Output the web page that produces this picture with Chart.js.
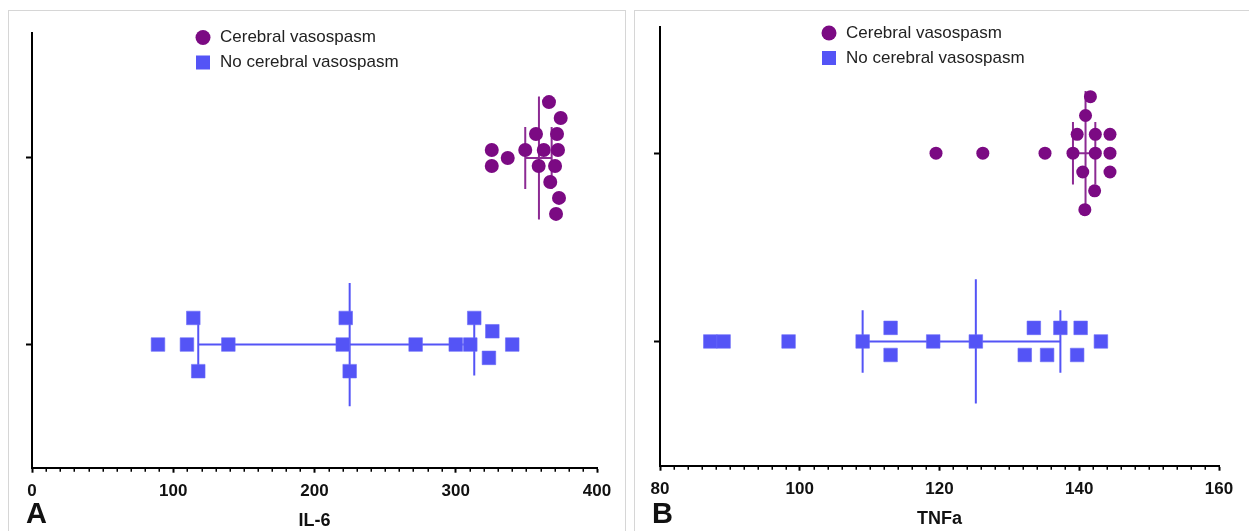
<!DOCTYPE html>
<html>
<head>
<meta charset="utf-8">
<script src="https://cdn.jsdelivr.net/npm/chart.js@4.4.1/dist/chart.umd.min.js"></script>
<style>
  body { margin: 0; background: #fff; width: 1249px; height: 531px; overflow: hidden; position: relative; }
  .panel { position: absolute; top: 10px; height: 540px; border: 1px solid #d6d6d6; box-sizing: border-box; }
  #panelA { left: 8px; width: 618px; }
  #panelB { left: 634px; width: 622px; }
  .panel canvas { display: block; }
</style>
</head>
<body>
<div class="panel" id="panelA"><canvas id="chartA" width="616" height="538"></canvas></div>
<div class="panel" id="panelB"><canvas id="chartB" width="620" height="538"></canvas></div>
<script>
// groups, top one first
const groups = ["Cerebral vasospasm", "No cerebral vasospasm"];
const groupY = [2, 1];

// IL-6 values, with the swarm lane of each dot
const il6Cv = [325.5, 325.5, 336.8, 349.2, 356.8, 362.3, 358.7, 366.9, 371.7, 372.4, 370.3, 366.0, 374.3, 373.1, 371.0];
const il6CvLane = [1, -1, 0, 1, 3, 1, -1, -3, 3, 1, -1, 7, 5, -5, -7];
const il6No = [89.2, 109.7, 114.2, 117.7, 139.0, 220.0, 222.1, 224.9, 271.6, 300.0, 310.3, 313.1, 325.9, 323.5, 340.0];
const il6NoLane = [0, 0, 2, -2, 0, 0, 2, -2, 0, 0, 0, 2, 1, -1, 0];
// median and interquartile range, [cerebral, no cerebral]
const il6Median = [358.9, 224.9];
const il6Q1 = [349.2, 117.7];
const il6Q3 = [367.9, 313.1];
const il6Ticks = [0, 100, 200, 300, 400];

// TNFa values
const tnfCv = [119.5, 126.2, 135.1, 139.1, 139.7, 142.3, 144.4, 142.3, 144.4, 140.5, 144.4, 140.9, 141.6, 142.2, 140.8];
const tnfCvLane = [0, 0, 0, 0, 1, 1, 1, 0, 0, -1, -1, 2, 3, -2, -3];
const tnfNo = [87.2, 89.1, 98.4, 109.0, 113.0, 113.0, 119.1, 125.2, 133.5, 132.2, 135.4, 137.3, 140.2, 139.7, 143.1];
const tnfNoLane = [0, 0, 0, 0, 1, -1, 0, 0, 1, -1, -1, 1, 1, -1, 0];
const tnfMedian = [140.9, 125.2];
const tnfQ1 = [139.1, 109.0];
const tnfQ3 = [142.3, 137.3];
const tnfTicks = [80, 100, 120, 140, 160];

const PURPLE = "#7b0a83";
const PURPLE_LINE = "#8c2a93";
const BLUE = "#5454f6";
const FONT = "'Liberation Sans', Arial, Helvetica, sans-serif";

// little extras: minor ticks, stacked legend, panel letter
const extras = {
  id: "extras",
  afterDraw(chart, args, opts) {
    const ctx = chart.ctx;
    const x = chart.scales.x;
    ctx.save();
    ctx.strokeStyle = "#000";
    ctx.lineWidth = 1.5;
    for (let v = x.min; v <= x.max + 1e-9; v += opts.minorStep) {
      if (opts.ticks.includes(Math.round(v * 100) / 100)) continue;
      const px = Math.round(x.getPixelForValue(v)) + 0.25;
      ctx.beginPath();
      ctx.moveTo(px, x.top);
      ctx.lineTo(px, x.top + 4);
      ctx.stroke();
    }

    // legend
    ctx.textBaseline = "middle";
    ctx.textAlign = "left";
    ctx.font = "17px " + FONT;
    const ly = opts.legendY;
    ctx.fillStyle = PURPLE;
    ctx.beginPath();
    ctx.arc(194, ly, 7.5, 0, Math.PI * 2);
    ctx.fill();
    ctx.fillStyle = "#222";
    ctx.fillText(groups[0], 211, ly);
    ctx.fillStyle = BLUE;
    ctx.fillRect(187, ly + 25 - 7, 14, 14);
    ctx.fillStyle = "#222";
    ctx.fillText(groups[1], 211, ly + 25);

    ctx.font = "bold 29px " + FONT;
    ctx.textBaseline = "alphabetic";
    ctx.fillStyle = "#111";
    ctx.fillText(opts.letter, 17, 512);
    ctx.restore();
  }
};

function swarm(values, lanes, base, step) {
  return values.map((v, i) => ({ x: v, y: base + lanes[i] * step }));
}

function seg(x1, y1, x2, y2, color) {
  return {
    type: "scatter",
    data: [{ x: x1, y: y1 }, { x: x2, y: y2 }],
    showLine: true,
    borderColor: color,
    borderWidth: 2,
    pointRadius: 0,
  };
}

function bars(med, q1, q3, cy, color) {
  return [
    seg(q1, cy, q3, cy, color),
    seg(med, cy - 0.33, med, cy + 0.33, color),
    seg(q1, cy - 0.166, q1, cy + 0.166, color),
    seg(q3, cy - 0.166, q3, cy + 0.166, color),
  ];
}

function makeChart(id, p) {
  const datasets = [
    {
      type: "scatter",
      label: groups[0],
      data: swarm(p.cv, p.cvLane, groupY[0], p.cvStep),
      pointStyle: "circle",
      pointRadius: p.dotR,
      backgroundColor: PURPLE,
      borderWidth: 0,
    },
    {
      type: "scatter",
      label: groups[1],
      data: swarm(p.no, p.noLane, groupY[1], p.noStep),
      pointStyle: "rect",
      pointRadius: 9.6,
      backgroundColor: BLUE,
      borderColor: "#6a6af8",
      borderWidth: 0.6,
    },
    ...bars(p.median[0], p.q1[0], p.q3[0], groupY[0], PURPLE_LINE),
    ...bars(p.median[1], p.q1[1], p.q3[1], groupY[1], BLUE),
  ];

  return new Chart(document.getElementById(id), {
    type: "scatter",
    data: { datasets },
    options: {
      responsive: false,
      animation: false,
      events: [],
      layout: { padding: p.padding },
      plugins: {
        legend: { display: false },
        tooltip: { enabled: false },
        extras: { minorStep: p.minorStep, ticks: p.ticks, legendY: p.legendY, letter: p.letter },
      },
      scales: {
        x: {
          type: "linear",
          min: p.ticks[0],
          max: p.ticks[p.ticks.length - 1],
          afterBuildTicks: (s) => { s.ticks = p.ticks.map(v => ({ value: v })); },
          ticks: { color: "#111", font: { family: FONT, size: 17, weight: "bold" }, padding: 8.5, maxRotation: 0, autoSkip: false },
          grid: { drawOnChartArea: false, tickLength: 5, tickWidth: 2, tickColor: "#000" },
          border: { color: "#000", width: 2 },
          title: { display: true, text: p.title, color: "#111", font: { family: FONT, size: 18, weight: "bold" }, padding: { top: 0, bottom: 0 } },
        },
        y: {
          type: "linear",
          min: 0.34,
          max: 2.67,
          afterBuildTicks: (s) => { s.ticks = groupY.map(v => ({ value: v })); },
          ticks: { display: false },
          grid: { drawOnChartArea: false, tickLength: 6, tickWidth: 2, tickColor: "#000" },
          border: { color: "#000", width: 2 },
        },
      },
    },
    plugins: [extras],
  });
}

makeChart("chartA", {
  cv: il6Cv, cvLane: il6CvLane, cvStep: 0.0428, dotR: 7,
  no: il6No, noLane: il6NoLane, noStep: 0.0713,
  median: il6Median, q1: il6Q1, q3: il6Q3,
  ticks: il6Ticks, minorStep: 10, title: "IL-6", letter: "A",
  padding: { left: 17, right: 28, top: 22, bottom: 17.3 },
  legendY: 26.5,
});

makeChart("chartB", {
  cv: tnfCv, cvLane: tnfCvLane, cvStep: 0.1, dotR: 6.5,
  no: tnfNo, noLane: tnfNoLane, noStep: 0.072,
  median: tnfMedian, q1: tnfQ1, q3: tnfQ3,
  ticks: tnfTicks, minorStep: 2, title: "TNFa", letter: "B",
  padding: { left: 19, right: 36, top: 16, bottom: 19.3 },
  legendY: 22,
});
</script>
</body>
</html>
